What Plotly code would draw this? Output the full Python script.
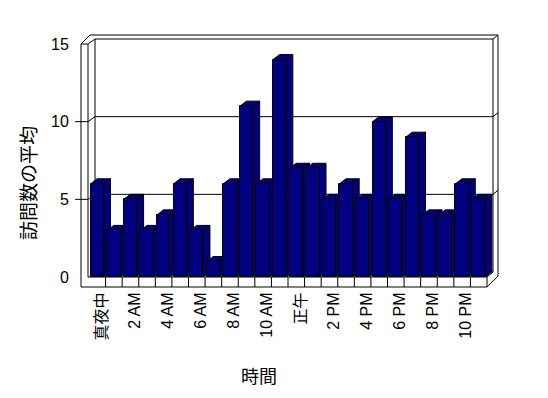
import plotly.graph_objects as go

# ---- data ----
hours = ["真夜中", "1 AM", "2 AM", "3 AM", "4 AM", "5 AM", "6 AM", "7 AM",
         "8 AM", "9 AM", "10 AM", "11 AM", "正午", "1 PM", "2 PM", "3 PM",
         "4 PM", "5 PM", "6 PM", "7 PM", "8 PM", "9 PM", "10 PM", "11 PM"]
avg_visits = [6, 3, 5, 3, 4, 6, 3, 1, 6, 11, 6, 14,
              7, 7, 5, 6, 5, 10, 5, 9, 4, 4, 6, 5]
y_tick_values = [0, 5, 10, 15]
x_title = "時間"
y_title = "訪問数の平均"

# ---- layout geometry (pixels) ----
FIG_W, FIG_H = 548, 398
L, R, T, B = 81, 500, 44, 277          # plot area
W, H = R - L, B - T
CAT0 = 89                               # pixel of left edge of first category
N = len(hours)
CW = (487 - CAT0) / N                   # category width in pixels
XMIN = -0.5 - (CAT0 - L) / CW
XMAX = -0.5 + (R - CAT0) / CW
YMAX = 15
DX_PX, DY_PX = 6.5, 5                   # 3D depth of bars
ddx = DX_PX / CW
ddy = DY_PX * YMAX / H
BAR_W = 0.8
NAVY = "#000080"


def px(x):
    return (x - L) / W


def py(y):
    return (B - y) / H


def seg(x0, y0, x1, y1):
    return dict(type="line", xref="paper", yref="paper",
                x0=px(x0), y0=py(y0), x1=px(x1), y1=py(y1),
                line=dict(color="black", width=1), layer="below")


shapes = []
# walls / floor frame
frame = [
    (81, 44, 81, 287), (88, 44, 88, 277), (81, 44, 88, 44),
    (81, 44, 90, 35), (90, 35, 498, 35), (88, 44, 95, 39),
    (95, 39, 493, 39), (493, 39, 498, 35), (493, 39, 493, 272),
    (498, 35, 498, 276), (498, 276, 487, 287), (81, 287, 487, 287),
    (88, 277, 487, 277), (487, 277, 487, 287), (487, 277, 493, 272),
    (95, 39, 95, 272), (95, 272, 493, 272),
]
for f in frame:
    shapes.append(seg(*f))
for k in range(1, N):
    xk = CAT0 + k * CW
    shapes.append(seg(xk, 277, xk, 287))
# gridlines on walls
for v in y_tick_values[1:-1]:
    yf = B - v * H / YMAX
    shapes.append(seg(75, yf, 88, yf))
    shapes.append(seg(88, yf, 95, yf - 5))
    shapes.append(seg(95, yf - 5, 493, yf - 5))
    shapes.append(seg(493, yf - 5, 498, yf - 9))

# 3D faces of bars (top + side), derived from data
for i, v in enumerate(avg_visits):
    xl, xr = i - BAR_W / 2, i + BAR_W / 2
    side = f"M {xr},0 L {xr},{v} L {xr+ddx},{v+ddy} L {xr+ddx},{ddy} Z"
    top = f"M {xl},{v} L {xr},{v} L {xr+ddx},{v+ddy} L {xl+ddx},{v+ddy} Z"
    for p in (side, top):
        shapes.append(dict(type="path", xref="x", yref="y", path=p,
                           fillcolor=NAVY, line=dict(color="black", width=1),
                           layer="below"))

fig = go.Figure()
fig.add_trace(go.Bar(
    x=list(range(N)), y=avg_visits, width=BAR_W,
    marker=dict(color=NAVY, line=dict(color="black", width=1)),
    hovertext=hours, hoverinfo="text+y",
))

FONT = "Liberation Sans, Arial, Noto Sans CJK JP, sans-serif"
fig.update_layout(
    width=FIG_W, height=FIG_H,
    margin=dict(l=L, r=FIG_W - R, t=T, b=FIG_H - B, pad=0),
    paper_bgcolor="white", plot_bgcolor="rgba(0,0,0,0)",
    font=dict(family=FONT, size=16, color="black"),
    showlegend=False, bargap=0,
    shapes=shapes,
    xaxis=dict(range=[XMIN, XMAX], showgrid=False, zeroline=False,
               showline=False, tickmode="array",
               tickvals=[i + 0.25 for i in range(0, N, 2)],
               ticktext=hours[::2], tickangle=-90,
               ticks="outside", ticklen=8, tickcolor="rgba(0,0,0,0)",
               tickfont=dict(size=16)),
    yaxis=dict(range=[0, YMAX], showgrid=False, zeroline=False,
               showline=False, tickmode="array", tickvals=y_tick_values,
               ticks="outside", ticklen=8, tickcolor="rgba(0,0,0,0)",
               tickfont=dict(size=16)),
    annotations=[
        dict(text=x_title, xref="paper", yref="paper", x=px(259), y=py(377),
             showarrow=False, font=dict(size=18), xanchor="center",
             yanchor="middle"),
        dict(text=y_title, xref="paper", yref="paper", x=px(29), y=py(183),
             showarrow=False, font=dict(size=19), textangle=-90,
             xanchor="center", yanchor="middle"),
    ],
)

fig.write_html("out.html", config={"displayModeBar": False},
               post_script="document.body.style.margin='0px';")
